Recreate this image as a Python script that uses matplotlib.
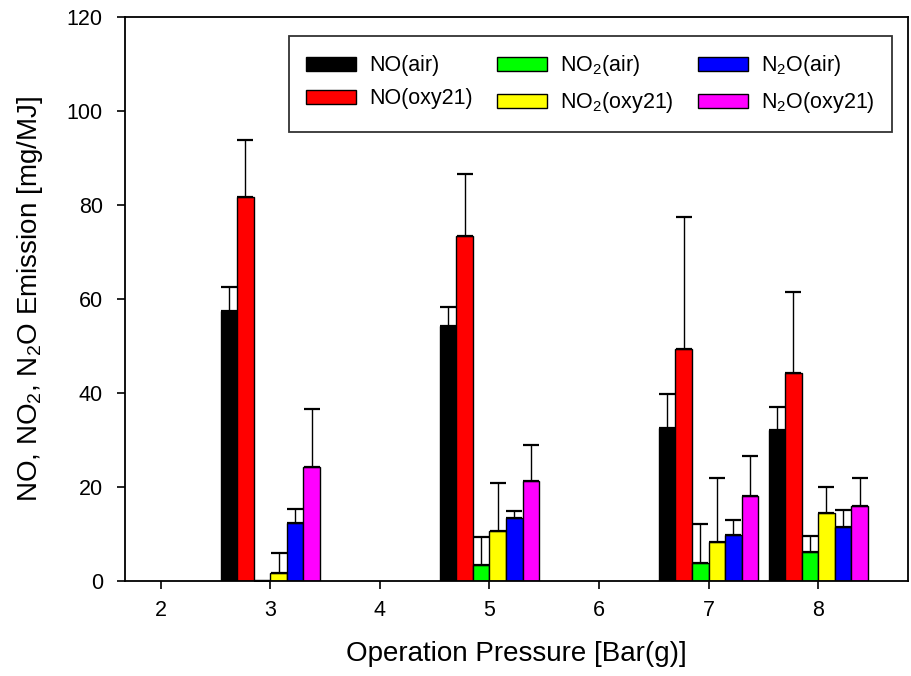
import matplotlib
matplotlib.use("Agg")
import matplotlib.pyplot as plt
import numpy as np

plt.rcParams['font.family'] = ['Liberation Sans', 'DejaVu Sans']
plt.rcParams['mathtext.fontset'] = 'custom'
plt.rcParams['mathtext.rm'] = 'Liberation Sans'
plt.rcParams['mathtext.it'] = 'Liberation Sans:italic'
plt.rcParams['mathtext.bf'] = 'Liberation Sans:bold'
plt.rcParams['mathtext.default'] = 'regular'

pressures = [3, 5, 7, 8]
series_labels = ['NO(air)', 'NO(oxy21)', 'NO$_2$(air)', 'NO$_2$(oxy21)', 'N$_2$O(air)', 'N$_2$O(oxy21)']
colors = ['#000000', '#ff0000', '#00ff00', '#ffff00', '#0000ff', '#ff00ff']

no_air = [57.5, 54.3, 32.6, 32.1]
no_oxy = [81.7, 73.3, 49.3, 44.2]
no2_air = [0.0, 3.4, 3.9, 6.2]
no2_oxy = [1.6, 10.7, 8.4, 14.4]
n2o_air = [12.3, 13.5, 9.8, 11.5]
n2o_oxy = [24.2, 21.3, 18.1, 16.0]

no_air_err = [5.0, 4.1, 7.2, 4.9]
no_oxy_err = [12.1, 13.3, 28.1, 17.3]
no2_air_err = [0.0, 6.0, 8.2, 3.3]
no2_oxy_err = [4.3, 10.1, 13.5, 5.5]
n2o_air_err = [3.1, 1.4, 3.1, 3.7]
n2o_oxy_err = [12.4, 7.6, 8.6, 6.0]

values = [no_air, no_oxy, no2_air, no2_oxy, n2o_air, n2o_oxy]
errors = [no_air_err, no_oxy_err, no2_air_err, no2_oxy_err, n2o_air_err, n2o_oxy_err]

x_ticks = [2, 3, 4, 5, 6, 7, 8]
y_ticks = [0, 20, 40, 60, 80, 100, 120]

fig = plt.figure(figsize=(9.11, 6.76), dpi=100)
ax = fig.add_axes([125/911, 1-581/676, (908-125)/911, (581-17)/676])

w = 0.151
x = np.array(pressures, dtype=float)
for i, (vals, errs, c, lab) in enumerate(zip(values, errors, colors, series_labels)):
    pos = x + (i - 2.5) * w
    ax.bar(pos, vals, width=w, color=c, edgecolor='black', linewidth=1.0, label=lab, zorder=2)
    ax.errorbar(pos, vals, yerr=[np.zeros(len(errs)), errs], fmt='none', ecolor='black',
                elinewidth=1.0, capsize=5.5, capthick=1.6, zorder=3)

ax.set_xlim(1.674, 8.82)
ax.set_ylim(0, 120)
ax.set_xticks(x_ticks)
ax.set_yticks(y_ticks)
ax.tick_params(axis='both', direction='out', length=6, width=1.2, labelsize=15.5)
ax.tick_params(axis='x', pad=8)
ax.tick_params(axis='y', pad=10)
for s in ax.spines.values():
    s.set_linewidth(1.3)

ax.set_xlabel('Operation Pressure [Bar(g)]', fontsize=20)
ax.set_ylabel('NO, NO$_2$, N$_2$O Emission [mg/MJ]', fontsize=20)
ax.xaxis.set_label_coords(0.5, -0.106)
ax.yaxis.set_label_coords(-0.102, 0.5)

leg = ax.legend(ncol=3, loc='upper right', bbox_to_anchor=(0.9796, 0.966), borderaxespad=0,
                fontsize=15.5, frameon=True, fancybox=False, edgecolor='black',
                handlelength=2.33, handleheight=0.63, handletextpad=0.6, columnspacing=1.12,
                labelspacing=0.55, borderpad=0.8)
leg.get_frame().set_linewidth(1.3)

fig.savefig('out.png', dpi=100)
